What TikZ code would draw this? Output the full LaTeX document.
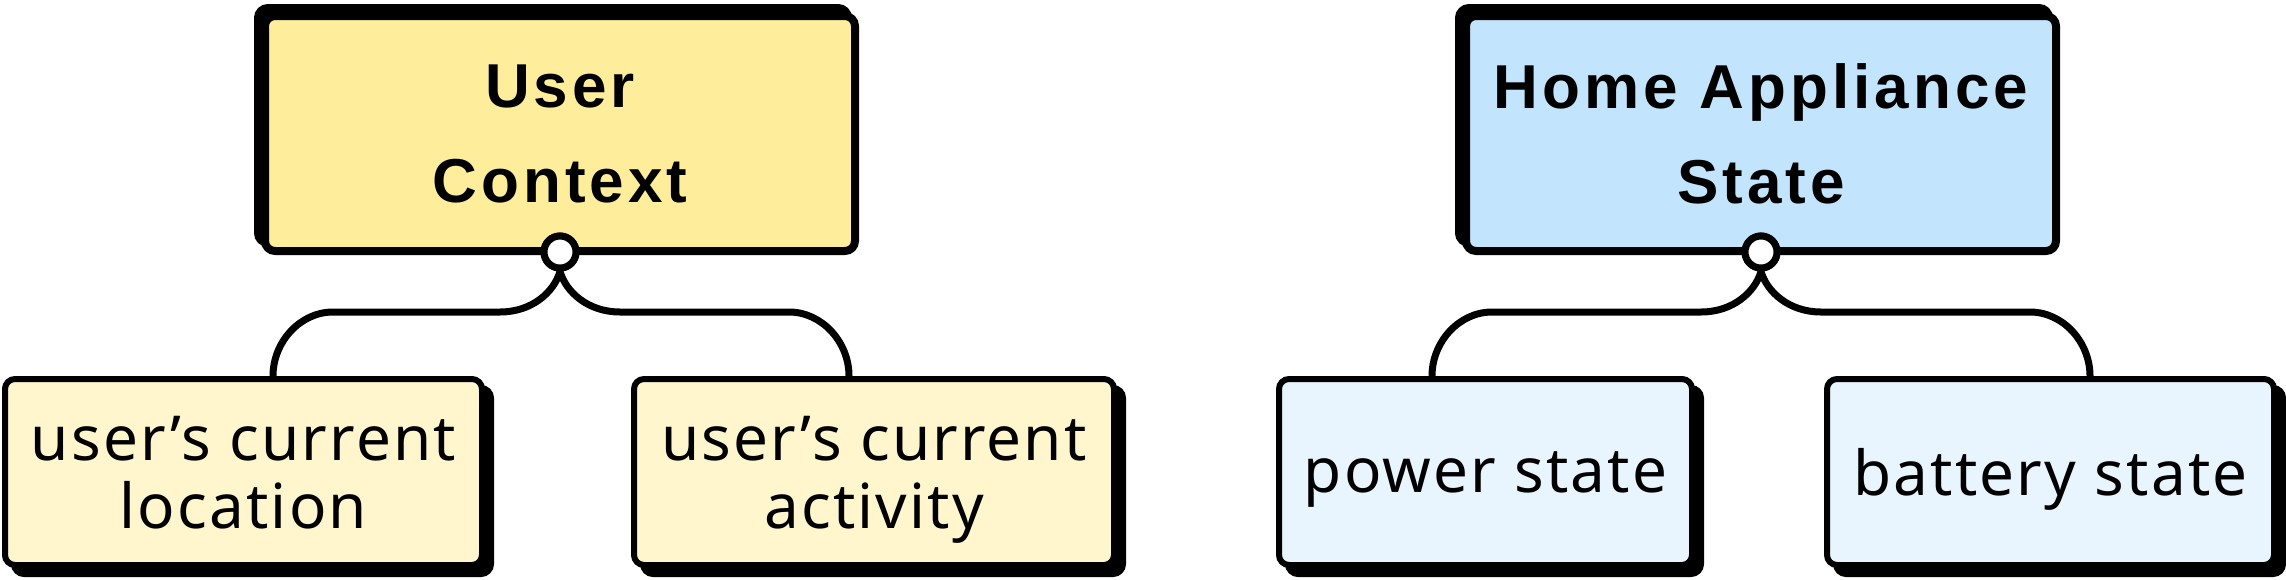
\documentclass[tikz,border=0pt]{standalone}
\usepackage{fontspec}
\setmainfont{Noto Sans}
\newfontfamily\childfont[LetterSpace=3.5]{Noto Sans}
\newfontfamily\parentfont[LetterSpace=6.5]{Liberation Sans}
\usetikzlibrary{shadows,calc}
\definecolor{pyellow}{HTML}{FEEE9B}
\definecolor{cyellow}{HTML}{FFF6CD}
\definecolor{pblue}{HTML}{C2E4FD}
\definecolor{cblue}{HTML}{E8F4FE}
\tikzset{
  parentbox/.style={draw=black, line width=4pt, rounded corners=5pt,
    minimum width=295pt, minimum height=117.5pt, inner sep=0pt, align=center,
    font=\parentfont\bfseries\fontsize{31pt}{47.5pt}\selectfont,
    general shadow={fill=black, draw=black, line width=4pt, shadow xshift=-3.5pt, shadow yshift=4pt}},
  childbox/.style={draw=black, line width=3pt, rounded corners=5pt,
    minimum height=93pt, inner sep=0pt, align=center, text depth=-3pt,
    font=\childfont\fontsize{31pt}{34pt}\selectfont,
    general shadow={fill=black, draw=black, line width=3pt, shadow xshift=4.5pt, shadow yshift=-4.5pt}},
  oneline/.style={text depth=-1.5pt},
  conn/.style={draw=black, line width=3.5pt},
  knob/.style={circle, draw=black, fill=white, line width=3.5pt, minimum size=16pt, inner sep=0pt}
}
\begin{document}
\begin{tikzpicture}[x=0.5pt,y=-0.5pt]
\useasboundingbox (0,0) rectangle (2286,579);
% parents
\node[parentbox, fill=pyellow] (p1) at (560,133.5) {User\\Context};
\node[parentbox, fill=pblue] (p2) at (1761,133.5) {Home Appliance\\State};
% children
\node[childbox, fill=cyellow, minimum width=238.5pt] (c1) at (243.5,472) {user’s current\\location};
\node[childbox, fill=cyellow, minimum width=240pt] (c2) at (874,472) {user’s current\\activity};
\node[childbox, oneline, fill=cblue, minimum width=206.5pt] (c3) at (1485.5,472) {power state};
\node[childbox, oneline, fill=cblue, minimum width=223.5pt] (c4) at (2050.5,472) {battery state};
% knobs
\node[knob] (k1) at (560,252) {};
\node[knob] (k2) at (1761,252) {};
% attach coordinates
\coordinate (t1) at (273,0);
\coordinate (t2) at (849,0);
\coordinate (t3) at (1432,0);
\coordinate (t4) at (2090,0);
% connectors
\draw[conn] (k1.south) .. controls (554,292) and (532,312) .. (500,312) -- (333,312)
  .. controls (300,312) and (273,342) .. (c1.north -| t1);
\draw[conn] (k1.south) .. controls (566,292) and (588,312) .. (620,312) -- (789,312)
  .. controls (822,312) and (849,342) .. (c2.north -| t2);
\draw[conn] (k2.south) .. controls (1755,292) and (1733,312) .. (1701,312) -- (1492,312)
  .. controls (1459,312) and (1432,342) .. (c3.north -| t3);
\draw[conn] (k2.south) .. controls (1767,292) and (1789,312) .. (1821,312) -- (2030,312)
  .. controls (2063,312) and (2090,342) .. (c4.north -| t4);
% redraw knobs on top
\node[knob] at (k1) {};
\node[knob] at (k2) {};
\end{tikzpicture}
\end{document}
